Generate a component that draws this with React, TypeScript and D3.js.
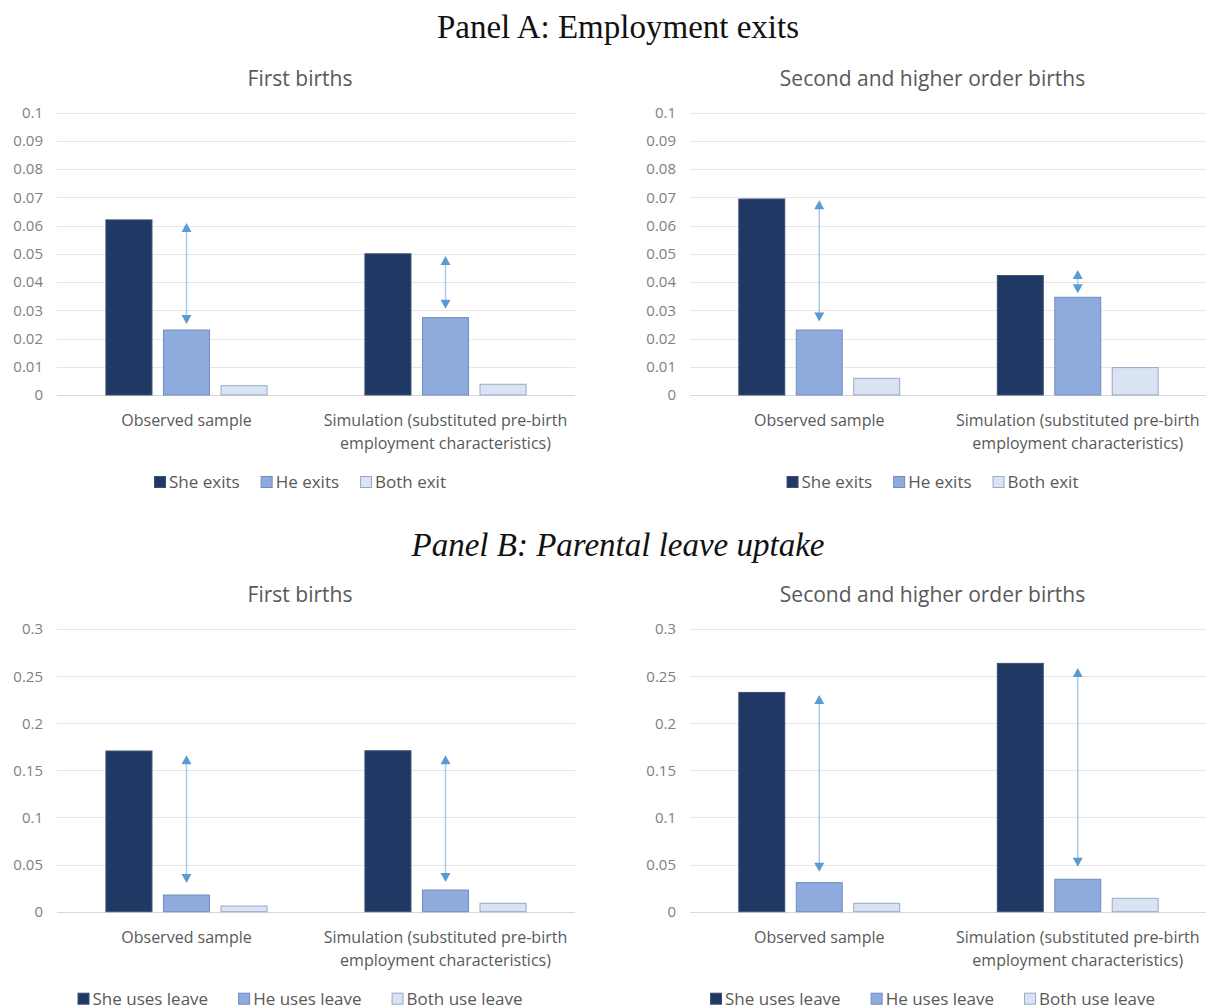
import { useRef, useEffect } from 'react';
import * as d3 from 'd3';

const W = 1206;
const H = 1008;

// ── Data ─────────────────────────────────────────────────────────────
const categoryLines = [
  ['Observed sample'],
  ['Simulation (substituted pre-birth', 'employment characteristics)'],
];

const exitSeries = ['She exits', 'He exits', 'Both exit'];
const leaveSeries = ['She uses leave', 'He uses leave', 'Both use leave'];

const exitTicks = [0, 0.01, 0.02, 0.03, 0.04, 0.05, 0.06, 0.07, 0.08, 0.09, 0.1];
const exitTickLabels = ['0', '0.01', '0.02', '0.03', '0.04', '0.05', '0.06', '0.07', '0.08', '0.09', '0.1'];
const leaveTicks = [0, 0.05, 0.1, 0.15, 0.2, 0.25, 0.3];
const leaveTickLabels = ['0', '0.05', '0.1', '0.15', '0.2', '0.25', '0.3'];

// [she, he, both] per category
const exitFirstValues = [[0.062, 0.023, 0.0033], [0.05, 0.0274, 0.0038]];
const exitHigherValues = [[0.0694, 0.023, 0.0059], [0.0423, 0.0346, 0.0097]];
const leaveFirstValues = [[0.1705, 0.0177, 0.006], [0.1708, 0.023, 0.0089]];
const leaveHigherValues = [[0.2327, 0.0308, 0.0089], [0.2635, 0.0344, 0.0142]];

// gap arrows [top tip, bottom tip] per category
const exitFirstArrows = [[0.0609, 0.0251], [0.0492, 0.0305]];
const exitHigherArrows = [[0.069, 0.026], [0.0443, 0.036]];
const leaveFirstArrows = [[0.166, 0.0304], [0.166, 0.0315]];
const leaveHigherArrows = [[0.23, 0.0424], [0.2585, 0.0477]];

// ── Styles ───────────────────────────────────────────────────────────
const FILL = ['#203864', '#8faadc', '#dae3f3'];
const STROKE = ['#3d4f75', '#6f8bc0', '#98a8c4'];
const GRID = '#e6e6e6';
const TICK_TEXT = '#7f7f7f';
const TEXT = '#595959';
const ARROW_LINE = '#a9cbe9';
const ARROW_HEAD = '#5b9bd5';
const SANS = '"Open Sans", "Noto Sans", sans-serif';
const SERIF = '"Liberation Serif", "DejaVu Serif", serif';

interface ChartSpec {
  title: string;
  ticks: number[];
  tickLabels: string[];
  values: number[][];
  arrows: number[][];
  series: string[];
  legendGap: number;
  x0: number;
  x1: number;
  yTop: number;
  yBase: number;
}

const charts: ChartSpec[] = [
  { title: 'First births', ticks: exitTicks, tickLabels: exitTickLabels, values: exitFirstValues, arrows: exitFirstArrows, series: exitSeries, legendGap: 21, x0: 57, x1: 575, yTop: 112.6, yBase: 395 },
  { title: 'Second and higher order births', ticks: exitTicks, tickLabels: exitTickLabels, values: exitHigherValues, arrows: exitHigherArrows, series: exitSeries, legendGap: 21, x0: 690, x1: 1207, yTop: 112.6, yBase: 395 },
  { title: 'First births', ticks: leaveTicks, tickLabels: leaveTickLabels, values: leaveFirstValues, arrows: leaveFirstArrows, series: leaveSeries, legendGap: 30, x0: 57, x1: 575, yTop: 629, yBase: 911.7 },
  { title: 'Second and higher order births', ticks: leaveTicks, tickLabels: leaveTickLabels, values: leaveHigherValues, arrows: leaveHigherArrows, series: leaveSeries, legendGap: 30, x0: 690, x1: 1207, yTop: 629, yBase: 911.7 },
];

type G = d3.Selection<SVGGElement, unknown, null, undefined>;

function drawChart(g: G, c: ChartSpec) {
  const y = d3
    .scaleLinear()
    .domain([0, c.ticks[c.ticks.length - 1]])
    .range([c.yBase, c.yTop]);
  const x = d3.scaleBand<number>().domain([0, 1]).range([c.x0, c.x1]);
  const xs = d3
    .scaleBand<number>()
    .domain([0, 1, 2])
    .range([0, x.bandwidth()])
    .paddingInner(0.2)
    .paddingOuter(0.85);
  const centre = (c.x0 + c.x1) / 2 - 16;

  // title
  g.append('text')
    .attr('x', centre)
    .attr('y', c.yTop - 27)
    .attr('text-anchor', 'middle')
    .attr('fill', TEXT)
    .attr('font-size', '21px')
    .attr('font-family', SANS)
    .text(c.title);

  // gridlines + tick labels
  c.ticks.forEach((t, i) => {
    g.append('line')
      .attr('x1', c.x0)
      .attr('x2', c.x1)
      .attr('y1', Math.round(y(t)) + 0.5)
      .attr('y2', Math.round(y(t)) + 0.5)
      .attr('stroke', i === 0 ? '#d9d9d9' : GRID)
      .attr('stroke-width', 1);
    g.append('text')
      .attr('x', c.x0 - 14)
      .attr('y', y(t))
      .attr('dy', '0.36em')
      .attr('text-anchor', 'end')
      .attr('fill', TICK_TEXT)
      .attr('font-size', '15px')
      .attr('font-family', SANS)
      .text(c.tickLabels[i]);
  });

  // bars
  c.values.forEach((vals, ci) => {
    vals.forEach((v, si) => {
      g.append('rect')
        .attr('x', x(ci)! + xs(si)!)
        .attr('y', y(v))
        .attr('width', xs.bandwidth())
        .attr('height', y(0) - y(v))
        .attr('fill', FILL[si])
        .attr('stroke', STROKE[si])
        .attr('stroke-width', 1);
    });

    // arrow over the "he" bar
    const [top, bottom] = c.arrows[ci];
    const ax = x(ci)! + xs(1)! + xs.bandwidth() / 2;
    const yt = y(top);
    const yb = y(bottom);
    const hh = 9;
    const hw = 5;
    g.append('line')
      .attr('x1', ax).attr('x2', ax)
      .attr('y1', yt + hh - 1).attr('y2', yb - hh + 1)
      .attr('stroke', ARROW_LINE)
      .attr('stroke-width', 1.5);
    g.append('path')
      .attr('d', `M${ax},${yt}L${ax + hw},${yt + hh}L${ax - hw},${yt + hh}Z`)
      .attr('fill', ARROW_HEAD);
    g.append('path')
      .attr('d', `M${ax},${yb}L${ax + hw},${yb - hh}L${ax - hw},${yb - hh}Z`)
      .attr('fill', ARROW_HEAD);

    // category labels
    const cx = x(ci)! + x.bandwidth() / 2;
    categoryLines[ci].forEach((line, li) => {
      g.append('text')
        .attr('x', cx)
        .attr('y', c.yBase + 31 + li * 23)
        .attr('text-anchor', 'middle')
        .attr('fill', TEXT)
        .attr('font-size', '16px')
        .attr('font-family', SANS)
        .text(line);
    });
  });

  // legend
  const legend = g.append('g');
  const ly = c.yBase + 87;
  let lx = 0;
  c.series.forEach((s, si) => {
    legend.append('rect')
      .attr('x', lx + 0.5)
      .attr('y', ly - 5.5)
      .attr('width', 11)
      .attr('height', 11)
      .attr('fill', FILL[si])
      .attr('stroke', STROKE[si]);
    const t = legend.append('text')
      .attr('x', lx + 15)
      .attr('y', ly)
      .attr('dy', '0.36em')
      .attr('fill', TEXT)
      .attr('font-size', '17px')
      .attr('font-family', SANS)
      .text(s);
    const w = (t.node() as SVGTextElement).getComputedTextLength();
    lx += 15 + w + (si < c.series.length - 1 ? c.legendGap : 0);
  });
  legend.attr('transform', `translate(${centre - lx / 2},0)`);
}

export default function App() {
  const svgRef = useRef<SVGSVGElement>(null);

  useEffect(() => {
    if (!svgRef.current) return;
    const svg = d3.select(svgRef.current);
    svg.selectAll('*').remove();

    svg.append('rect').attr('width', W).attr('height', H).attr('fill', '#fff');

    svg.append('text')
      .attr('x', 618)
      .attr('y', 38)
      .attr('text-anchor', 'middle')
      .attr('fill', '#111')
      .attr('font-size', '33px')
      .attr('font-family', SERIF)
      .text('Panel A: Employment exits');

    svg.append('text')
      .attr('x', 618)
      .attr('y', 556)
      .attr('text-anchor', 'middle')
      .attr('fill', '#111')
      .attr('font-size', '33px')
      .attr('font-style', 'italic')
      .attr('font-family', SERIF)
      .text('Panel B: Parental leave uptake');

    charts.forEach((c) => drawChart(svg.append('g') as unknown as G, c));
  }, []);

  return (
    <svg
      ref={svgRef}
      width={W}
      height={H}
      style={{ position: 'absolute', left: 0, top: 0, display: 'block' }}
    />
  );
}
